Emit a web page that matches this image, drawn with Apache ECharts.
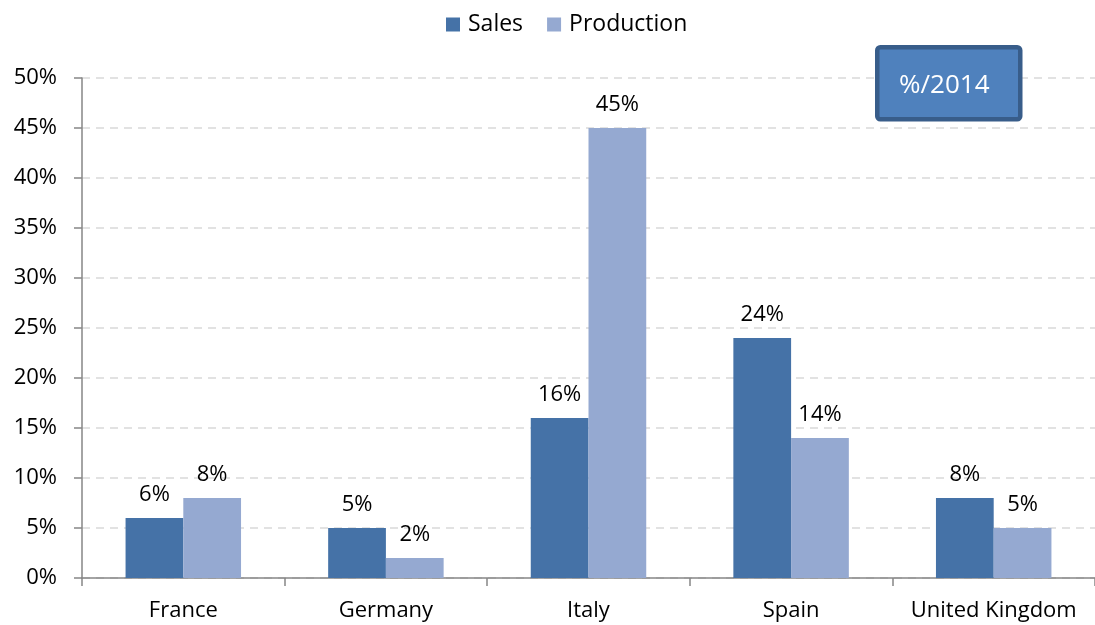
<!DOCTYPE html>
<html>
<head>
<meta charset="utf-8">
<script src="https://cdn.jsdelivr.net/npm/echarts@6/dist/echarts.min.js"></script>
<style>
  html, body { margin: 0; padding: 0; background: #fff; }
  #chart { width: 1095px; height: 625px; }
</style>
</head>
<body>
<div id="chart"></div>
<script>
var categories = ['France', 'Germany', 'Italy', 'Spain', 'United Kingdom'];
var sales = [6, 5, 16, 24, 8];
var production = [8, 2, 45, 14, 5];
var boxText = '%/2014';

var font = "'Open Sans', 'Liberation Sans', sans-serif";

var myChart = echarts.init(document.getElementById('chart'));

var barLabel = {
  show: true,
  position: 'top',
  distance: 12,
  formatter: '{c}%',
  color: '#000',
  fontSize: 22,
  fontFamily: font
};

myChart.setOption({
  animation: false,
  textStyle: { fontFamily: font },
  legend: {
    top: 8,
    left: 441,
    itemWidth: 14,
    itemHeight: 14,
    itemGap: 24,
    icon: 'rect',
    textStyle: { color: '#000', fontSize: 23, fontFamily: font, padding: [0, 0, 0, 3] },
    data: ['Sales', 'Production']
  },
  grid: {
    left: 82,
    top: 78,
    width: 1016,
    bottom: 47,
    containLabel: false
  },
  xAxis: {
    type: 'category',
    data: categories,
    axisLine: { lineStyle: { color: '#868686', width: 1.5 } },
    axisTick: { show: true, interval: 0, length: 8, lineStyle: { color: '#868686', width: 1.5 } },
    axisLabel: { interval: 0, color: '#000', fontSize: 22, margin: 22, fontFamily: font }
  },
  yAxis: {
    type: 'value',
    min: 0,
    max: 50,
    interval: 5,
    axisLine: { show: true, lineStyle: { color: '#868686', width: 1.5 } },
    axisTick: { show: true, length: 8, lineStyle: { color: '#868686', width: 1.5 } },
    axisLabel: { color: '#000', fontSize: 22, margin: 25, formatter: '{value}%', fontFamily: font },
    splitLine: { lineStyle: { color: '#d9d9d9', type: [8, 6], width: 1.5 } }
  },
  series: [
    {
      name: 'Sales',
      type: 'bar',
      data: sales,
      barGap: '0%',
      barCategoryGap: '43%',
      itemStyle: { color: '#4572a7' },
      label: barLabel
    },
    {
      name: 'Production',
      type: 'bar',
      data: production,
      barGap: '0%',
      barCategoryGap: '43%',
      itemStyle: { color: '#95a9d1' },
      label: barLabel
    }
  ],
  graphic: [
    {
      type: 'group',
      left: 875,
      top: 45,
      z: 100,
      children: [
        {
          type: 'rect',
          z: 100,
          shape: { x: 2, y: 2, width: 143, height: 72, r: 3 },
          style: { fill: '#4f81bd', stroke: '#385d8a', lineWidth: 4.5 }
        },
        {
          type: 'text',
          z: 101,
          x: 69,
          y: 40,
          style: {
            text: boxText,
            fill: '#fff',
            fontSize: 26,
            fontFamily: font,
            align: 'center',
            verticalAlign: 'middle'
          }
        }
      ]
    }
  ]
});
</script>
</body>
</html>
